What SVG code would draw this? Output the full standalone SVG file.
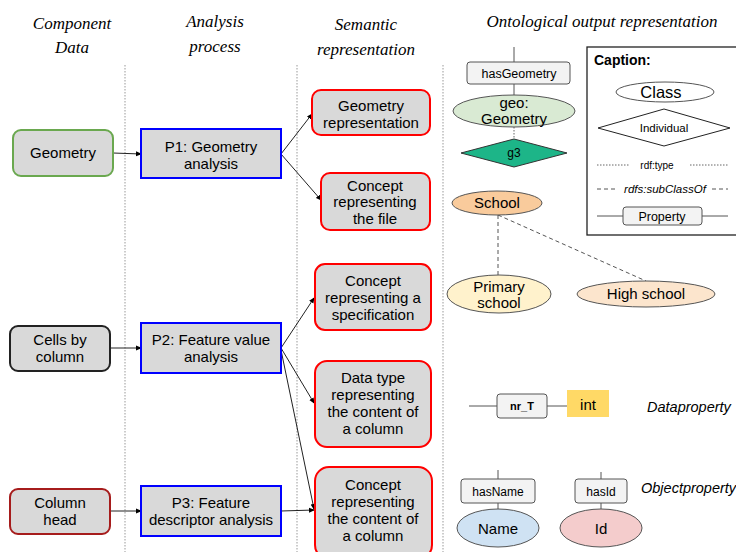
<svg xmlns="http://www.w3.org/2000/svg" width="736" height="552" viewBox="0 0 736 552">
<defs>
<marker id="arr" markerWidth="6" markerHeight="6" refX="5" refY="3" orient="auto" markerUnits="userSpaceOnUse">
<path d="M0,0.5 L6,3 L0,5.5 z" fill="#000"/>
</marker>
<style>
text{font-family:"Liberation Sans",Arial,sans-serif;fill:#000;}
.hd{font-family:"Liberation Serif","Times New Roman",serif;font-style:italic;font-size:17px;text-anchor:middle;}
.t15{font-size:15px;text-anchor:middle;}
.t13{font-size:13px;text-anchor:middle;}
.t12{font-size:12px;text-anchor:middle;}
.sep{stroke:#999;stroke-width:1;stroke-dasharray:1.5,1.5;fill:none;}
.gray{fill:#d9d9d9;}
.proc{fill:#d9d9d9;stroke:#0000ff;stroke-width:2;}
.sem{fill:#d9d9d9;stroke:#ff0000;stroke-width:2;}
.conn{stroke:#222;stroke-width:1;fill:none;marker-end:url(#arr);}
.prop{fill:#f3f3f3;stroke:#555;stroke-width:1;}
.ln{stroke:#555;stroke-width:1;fill:none;}
.ol{stroke:#555;stroke-width:1;}
</style>
</defs>

<!-- headers -->
<g id="headers">
<text class="hd" x="72" y="29">Component</text>
<text class="hd" x="72" y="53">Data</text>
<text class="hd" x="215" y="27">Analysis</text>
<text class="hd" x="215" y="52">process</text>
<text class="hd" x="366" y="30">Semantic</text>
<text class="hd" x="366" y="55">representation</text>
<text class="hd" x="602" y="27">Ontological output representation</text>
</g>

<!-- separators -->
<g id="separators">
<line class="sep" x1="125" y1="65" x2="125" y2="552"/>
<line class="sep" x1="297" y1="65" x2="297" y2="552"/>
<line class="sep" x1="443" y1="65" x2="443" y2="552"/>
</g>

<!-- connectors -->
<g id="connectors">
<line class="conn" x1="113" y1="153" x2="141" y2="154"/>
<line class="conn" x1="281" y1="154" x2="312" y2="114"/>
<line class="conn" x1="281" y1="154" x2="321" y2="200"/>
<line class="conn" x1="110" y1="348" x2="141" y2="348"/>
<line class="conn" x1="281" y1="348" x2="314" y2="298"/>
<line class="conn" x1="281" y1="348" x2="314" y2="403"/>
<line class="conn" x1="281" y1="350" x2="314" y2="509"/>
<line class="conn" x1="110" y1="511" x2="141" y2="511"/>
<line class="conn" x1="281" y1="511" x2="314" y2="510"/>
</g>

<!-- component data -->
<g id="n-geometry">
<rect class="gray" x="13" y="130" width="100" height="46" rx="8" stroke="#6aa84f" stroke-width="2"/>
<text class="t15" x="63" y="158">Geometry</text>
</g>
<g id="n-cells">
<rect class="gray" x="10" y="326" width="100" height="45" rx="8" stroke="#222" stroke-width="2"/>
<text class="t15" x="60" y="345">Cells by</text>
<text class="t15" x="60" y="362">column</text>
</g>
<g id="n-colhead">
<rect class="gray" x="10" y="489" width="100" height="45" rx="8" stroke="#a61c1c" stroke-width="2"/>
<text class="t15" x="60" y="508">Column</text>
<text class="t15" x="60" y="525">head</text>
</g>

<!-- processes -->
<g id="n-p1">
<rect class="proc" x="141" y="129" width="140" height="49"/>
<text class="t15" x="211" y="152">P1: Geometry</text>
<text class="t15" x="211" y="169">analysis</text>
</g>
<g id="n-p2">
<rect class="proc" x="141" y="323" width="140" height="50"/>
<text class="t15" x="211" y="345">P2: Feature value</text>
<text class="t15" x="211" y="362">analysis</text>
</g>
<g id="n-p3">
<rect class="proc" x="141" y="486" width="140" height="50"/>
<text class="t15" x="211" y="508">P3: Feature</text>
<text class="t15" x="211" y="525">descriptor analysis</text>
</g>

<!-- semantic -->
<g id="n-georep">
<rect class="sem" x="312" y="90" width="118" height="45" rx="9"/>
<text class="t15" x="371" y="111">Geometry</text>
<text class="t15" x="371" y="128">representation</text>
</g>
<g id="n-confile">
<rect class="sem" x="321" y="173" width="109" height="57" rx="9"/>
<text class="t15" x="375" y="191">Concept</text>
<text class="t15" x="375" y="207">representing</text>
<text class="t15" x="375" y="224">the file</text>
</g>
<g id="n-conspec">
<rect class="sem" x="315" y="264" width="116" height="66" rx="10"/>
<text class="t15" x="373" y="286">Concept</text>
<text class="t15" x="373" y="303">representing a</text>
<text class="t15" x="373" y="320">specification</text>
</g>
<g id="n-datatype">
<rect class="sem" x="315" y="361" width="116" height="86" rx="12"/>
<text class="t15" x="373" y="383">Data type</text>
<text class="t15" x="373" y="400">representing</text>
<text class="t15" x="373" y="417">the content of</text>
<text class="t15" x="373" y="434">a column</text>
</g>
<g id="n-concol">
<rect class="sem" x="315" y="467" width="117" height="92" rx="14"/>
<text class="t15" x="373" y="490">Concept</text>
<text class="t15" x="373" y="507">representing</text>
<text class="t15" x="373" y="524">the content of</text>
<text class="t15" x="373" y="541">a column</text>
</g>

<!-- ontology -->
<g id="o-links">
<line class="ln" x1="514" y1="47" x2="514" y2="62"/>
<line class="ln" x1="514" y1="84" x2="514" y2="96"/>
<line class="sep" x1="514" y1="127" x2="514" y2="139" style="stroke:#666"/>
<line class="ln" x1="498" y1="215" x2="498" y2="275" stroke-dasharray="4,3"/>
<line class="ln" x1="498" y1="215" x2="646" y2="281" stroke-dasharray="4,3"/>
<line class="ln" x1="469" y1="406" x2="497" y2="406"/>
<line class="ln" x1="547" y1="406" x2="567" y2="406"/>
<line class="ln" x1="498" y1="470" x2="498" y2="479"/>
<line class="ln" x1="498" y1="503" x2="498" y2="509"/>
<line class="ln" x1="601" y1="472" x2="601" y2="479"/>
<line class="ln" x1="601" y1="503" x2="601" y2="509"/>
</g>
<g id="o-hasgeometry">
<rect class="prop" x="467" y="62" width="103" height="22" rx="3"/>
<text x="519" y="78" style="font-size:12.5px;text-anchor:middle">hasGeometry</text>
</g>
<g id="o-geogeometry">
<ellipse class="ol" cx="514" cy="111" rx="61" ry="16" fill="#d9ead3"/>
<text class="t15" x="514" y="108">geo:</text>
<text class="t15" x="514" y="124">Geometry</text>
</g>
<g id="o-g3">
<polygon points="461,153 514,139 567,153 514,167" fill="#1db588" stroke="#333" stroke-width="1"/>
<text class="t12" x="514" y="157">g3</text>
</g>
<g id="o-school">
<ellipse class="ol" cx="497" cy="203" rx="45" ry="12" fill="#f9cb9c"/>
<text class="t15" x="497" y="208">School</text>
</g>
<g id="o-primary">
<ellipse class="ol" cx="499" cy="294" rx="52" ry="19" fill="#fff2cc"/>
<text class="t15" x="499" y="292">Primary</text>
<text class="t15" x="499" y="308">school</text>
</g>
<g id="o-high">
<ellipse class="ol" cx="646" cy="294" rx="69" ry="13" fill="#fce5cd"/>
<text class="t15" x="646" y="299">High school</text>
</g>
<g id="o-nrt">
<rect class="prop" x="497" y="394" width="50" height="24" rx="3"/>
<text x="522" y="410" style="font-size:11px;font-weight:bold;text-anchor:middle">nr_T</text>
</g>
<g id="o-int">
<rect x="567" y="390" width="42" height="27" fill="#ffd966"/>
<text class="t15" x="588" y="410">int</text>
</g>
<text x="647" y="412" style="font-size:14.5px;font-style:italic">Dataproperty</text>
<g id="o-hasname">
<rect class="prop" x="461" y="479" width="74" height="24" rx="3"/>
<text class="t12" x="498" y="496">hasName</text>
</g>
<g id="o-name">
<ellipse class="ol" cx="498" cy="528" rx="41" ry="19" fill="#cfe2f3"/>
<text class="t15" x="498" y="534">Name</text>
</g>
<g id="o-hasid">
<rect class="prop" x="575" y="479" width="52" height="24" rx="3"/>
<text class="t12" x="601" y="496">hasId</text>
</g>
<g id="o-id">
<ellipse class="ol" cx="601" cy="528" rx="41" ry="19" fill="#f4cccc"/>
<text class="t15" x="601" y="534">Id</text>
</g>
<text x="641" y="493" style="font-size:14.5px;font-style:italic">Objectproperty</text>

<!-- caption -->
<g id="caption">
<rect x="587" y="47" width="160" height="188" fill="#fff" stroke="#222" stroke-width="1.3"/>
<text x="594" y="65" style="font-size:14px;font-weight:bold">Caption:</text>
<ellipse class="ol" cx="665" cy="92" rx="49" ry="10" fill="#fff" stroke="#222"/>
<text x="661" y="98" style="font-size:16.5px;text-anchor:middle">Class</text>
<polygon points="598,128 664,109 730,128 664,146" fill="#fff" stroke="#222" stroke-width="1"/>
<text x="664" y="132" style="font-size:11.5px;text-anchor:middle">Individual</text>
<line class="sep" x1="597" y1="165" x2="630" y2="165" style="stroke:#666"/>
<line class="sep" x1="690" y1="165" x2="728" y2="165" style="stroke:#666"/>
<text x="657" y="169" style="font-size:10px;text-anchor:middle">rdf:type</text>
<line class="ln" x1="597" y1="189" x2="615" y2="189" stroke-dasharray="4,3"/>
<line class="ln" x1="712" y1="189" x2="728" y2="189" stroke-dasharray="4,3"/>
<text x="665" y="193" style="font-size:11.5px;font-style:italic;text-anchor:middle">rdfs:subClassOf</text>
<line class="ln" x1="597" y1="216" x2="623" y2="216"/>
<line class="ln" x1="702" y1="216" x2="728" y2="216"/>
<rect class="prop" x="623" y="207" width="79" height="18" rx="3"/>
<text x="662" y="221" style="font-size:12.5px;text-anchor:middle">Property</text>
</g>
</svg>
